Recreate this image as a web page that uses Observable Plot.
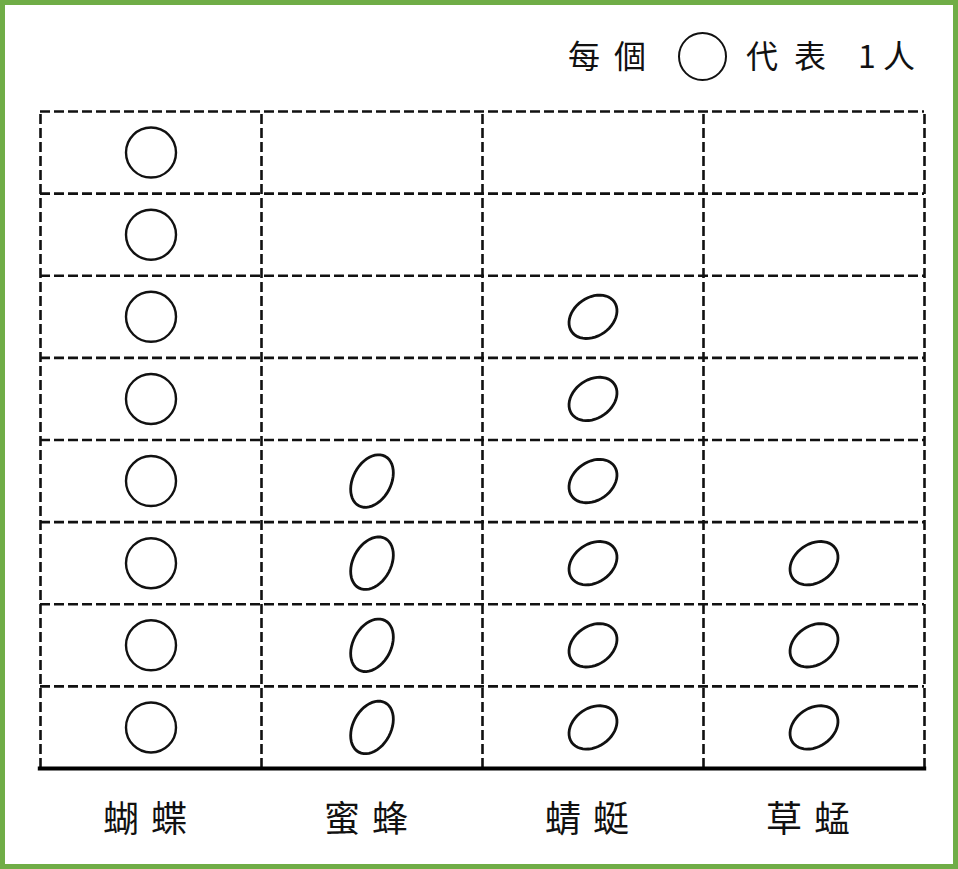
<!DOCTYPE html>
<html>
<head>
<meta charset="utf-8">
<script src="https://cdn.jsdelivr.net/npm/d3@7"></script>
<script src="https://cdn.jsdelivr.net/npm/@observablehq/plot@0.6"></script>
<style>
  html, body { margin: 0; padding: 0; background: #fff; }
  #wrap { position: relative; width: 958px; height: 869px; overflow: hidden; background: #fff; }
  #wrap svg.plot { position: absolute; left: 0; top: 0; }
  #frame { position: absolute; left: 0; top: 0; width: 958px; height: 869px; box-sizing: border-box;
           border: 5px solid #70ad47; pointer-events: none; }
  #legend { position: absolute; top: 29px; left: 568px; height: 52px; font-family: "Noto Sans CJK TC", sans-serif;
            font-size: 32px; color: #111; }
  #legend span { position: absolute; top: 2px; white-space: nowrap; }
  #legend .sym { position: absolute; top: 3px; width: 45px; height: 45px; border: 2.5px solid #111; border-radius: 50%; }
</style>
</head>
<body>
<div id="wrap">
  <div id="frame"></div>
</div>
<script>
// ---- data ----
const categories = ["蝴蝶", "蜜蜂", "蜻蜓", "草蜢"];
const counts = [8, 4, 6, 3];
const rowCount = 8;
const legendParts = ["每個", "代表", "1", "人"];
const legendValue = 1;

// ---- derived table ----
const points = categories.flatMap((c, i) =>
  d3.range(counts[i]).map(k => ({cat: c, xi: i + 0.5, yi: k + 0.5, group: i}))
);

// ellipse symbol (hand-drawn look)
function ellipseSymbol(aspect) {
  return {
    draw(context, size) {
      const rx = Math.sqrt(size / Math.PI);
      const ry = rx * aspect;
      const n = 48;
      for (let j = 0; j <= n; j++) {
        const t = (j / n) * 2 * Math.PI;
        const px = rx * Math.cos(t), py = ry * Math.sin(t);
        if (j === 0) context.moveTo(px, py); else context.lineTo(px, py);
      }
      context.closePath();
    }
  };
}

const dash = {stroke: "#111", strokeWidth: 2.6, strokeDasharray: "10,4"};

const chart = Plot.plot({
  width: 958,
  height: 869,
  marginLeft: 40,
  marginRight: 34,
  marginTop: 111,
  marginBottom: 101,
  x: {domain: [0, categories.length]},
  y: {domain: [0, rowCount], axis: null},
  style: {fontFamily: "'Noto Sans CJK TC', sans-serif", color: "#111", background: "transparent"},
  marks: [
    Plot.ruleY(d3.range(1, rowCount + 1), {...dash, x1: 0, x2: categories.length}),
    Plot.ruleX(d3.range(0, categories.length + 1), {...dash, y1: 0, y2: rowCount}),
    Plot.ruleY([0], {stroke: "#000", strokeWidth: 4, x1: -0.01, x2: categories.length + 0.01}),
    Plot.dot(points.filter(d => d.group === 0), {x: "xi", y: "yi", r: 25, stroke: "#111", strokeWidth: 2.4}),
    Plot.dot(points.filter(d => d.group === 1), {x: "xi", y: "yi", r: 28, symbol: ellipseSymbol(0.68), rotate: -62, stroke: "#111", strokeWidth: 2.8}),
    Plot.dot(points.filter(d => d.group >= 2), {x: "xi", y: "yi", r: 26, symbol: ellipseSymbol(0.74), rotate: -35, stroke: "#111", strokeWidth: 2.8}),
    Plot.axisX({
      ticks: categories.map((c, i) => i + 0.5),
      tickFormat: v => categories[Math.floor(v)],
      tickSize: 0,
      tickPadding: 38,
      fontSize: 36,
      label: null
    })
  ]
});
chart.classList.add("plot");
chart.querySelectorAll("g[aria-label='x-axis tick label'] text").forEach(t => {
  t.setAttribute("letter-spacing", "12");
  t.setAttribute("fill", "#111");
});
const wrap = document.getElementById("wrap");
wrap.insertBefore(chart, wrap.firstChild);

// legend
const legend = document.createElement("div");
legend.id = "legend";
const lp = [
  {t: legendParts[0], x: 0, ls: 14},
  {t: legendParts[1], x: 178, ls: 16},
  {t: String(legendValue), x: 290, ls: 0},
  {t: legendParts[3], x: 315, ls: 0}
];
lp.forEach(p => {
  const s = document.createElement("span");
  s.textContent = p.t;
  s.style.left = p.x + "px";
  s.style.letterSpacing = p.ls + "px";
  legend.appendChild(s);
});
const sym = document.createElement("div");
sym.className = "sym";
sym.style.left = "110px";
legend.appendChild(sym);
wrap.appendChild(legend);
</script>
</body>
</html>
